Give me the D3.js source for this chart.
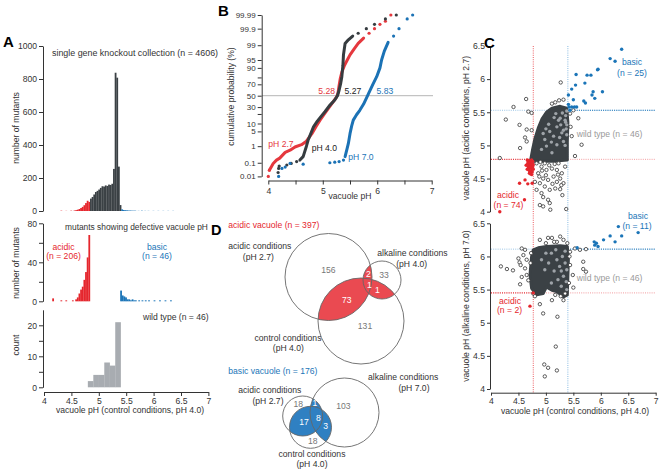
<!DOCTYPE html>
<html><head><meta charset="utf-8">
<script src="https://cdn.jsdelivr.net/npm/d3@7"></script>
<style>
body{margin:0;background:#fff}
svg{display:block;font-family:"Liberation Sans",Arial,sans-serif}
</style></head><body>
<svg id="c" width="662" height="472"></svg>
<script>
// ---------------- DATA ----------------
// Panel A: histograms (bin start pH, width 0.03)
const allBins   = [4.30,4.39,4.48,4.54,4.57,4.60,4.63,4.66,4.69,4.72,4.75,4.78,4.81,4.84,4.87,4.90,4.93,4.96,4.99,5.02,5.05,5.08,5.11,5.14,5.17,5.20,5.23,5.26,5.29,5.32,5.35,5.38,5.41,5.44,5.47,5.50,5.53,5.56,5.59,5.62,5.65,5.71,5.77,5.83,5.89,5.98,6.07,6.16,6.25,6.34];
const allCounts = [2,1,2,3,5,8,12,18,25,35,48,62,55,75,85,100,115,122,130,140,150,148,155,152,160,158,165,255,838,808,269,36,10,6,5,4,3,3,2,2,2,1,2,1,1,1,1,1,1,1];
const acidBins   = [4.15,4.30,4.39,4.51,4.57,4.60,4.63,4.66,4.69,4.72,4.75,4.78,4.81];
const acidCounts = [3,1,1,1,2,4,8,12,15,22,30,45,68];
const basicBins   = [5.39,5.42,5.45,5.48,5.51,5.54,5.57,5.60,5.63,5.66,5.72,5.78,5.84,5.90,6.00,6.10,6.20,6.30];
const basicCounts = [11,6,5,4,2,2,1,2,1,1,1,1,1,1,1,1,1,1];
const wtBins   = [4.8,4.9,5.0,5.1,5.2,5.3];
const wtCounts = [2,4,4,8,7,21];
const binW = 0.03, wtBinW = 0.1;
const acidCut = 4.84, basicCut = 5.40;

// Panel B: cumulative probability (pH, %)
const lineAcid = [[4.02,0.03],[4.09,0.09],[4.15,0.15],[4.21,0.2],[4.31,0.45],[4.40,0.6],[4.49,0.9],[4.61,1.2],[4.70,1.8],[4.80,4],[4.88,8],[4.95,13],[5.04,21],[5.12,30],[5.20,40],[5.255,48],[5.28,55],[5.30,68],[5.32,78],[5.35,86],[5.40,92],[5.45,95],[5.50,97],[5.58,98.5],[5.65,99.2],[5.75,99.6]];
const dotsAcid = [[4.0,0.01],[4.02,0.03],[5.85,99.8],[5.95,99.9],[6.05,99.95],[6.15,99.97],[6.25,99.99]];
const lineCtrl = [[4.58,0.15],[4.64,0.25],[4.70,1],[4.73,2],[4.78,4],[4.83,7.6],[4.90,12],[4.97,17],[5.04,23],[5.12,32],[5.22,42],[5.27,50],[5.30,60],[5.33,72],[5.35,81],[5.37,92],[5.38,97],[5.41,99.2],[5.47,99.5],[5.55,99.7]];
const dotsCtrl = [[4.18,0.02],[4.19,0.04],[4.20,0.06],[4.34,0.07],[4.42,0.09],[4.52,0.12],[5.65,99.8],[5.8,99.9],[5.95,99.95],[6.15,99.98],[6.35,99.99]];
const lineAlk = [[5.41,0.25],[5.45,0.8],[5.47,1.4],[5.50,4],[5.53,8],[5.56,13],[5.62,19],[5.68,25],[5.75,35],[5.84,54],[5.92,70],[5.99,81],[6.05,90],[6.08,95],[6.13,98],[6.2,99.3]];
const dotsAlk = [[4.19,0.01],[4.25,0.04],[4.31,0.05],[4.40,0.09],[4.64,0.08],[5.13,0.1],[5.22,0.11],[5.30,0.12],[5.38,0.15],[6.3,99.7],[6.4,99.9],[6.55,99.98],[6.65,99.99]];
const probTicks  = [0.01,0.1,1,5,10,20,30,50,70,80,90,95,99,99.9,99.99];
const probLabels = ["0.01","0.1","1","5","10","","30","50","70","","90","95","99","99.9","99.99"];
const medians = [5.28,5.27,5.83];

// Panel C: scatter (x = control pH, y = acidic / alkaline pH)
const cloudAcid = [[4.72,4.77],[4.76,4.95],[4.80,5.10],[4.86,5.26],[4.93,5.40],[5.01,5.50],[5.11,5.56],[5.26,5.59],[5.38,5.56],[5.40,5.35],[5.39,5.05],[5.39,4.78],[5.13,4.76],[4.80,4.76]];
const openAcid = [[4.41,5.58],[4.27,5.39],[4.64,5.70],[4.68,5.51],[4.74,5.49],[4.52,5.31],[4.65,5.24],[4.74,5.23],[4.62,5.12],[4.65,5.06],[4.53,4.96],[4.16,4.81],[5.11,5.63],[5.17,5.65],[5.24,5.68],[5.27,5.95],[5.32,5.69],[5.59,5.41],[5.65,5.01],[5.53,4.84],[5.47,5.14],[5.45,5.28],[5.44,5.48],[5.50,5.53],
 [4.83,4.73],[4.92,4.68],[5.01,4.63],[5.11,4.65],[5.20,4.63],[5.29,4.58],[4.86,4.58],[4.95,4.50],[5.04,4.48],[5.14,4.53],[5.26,4.50],[5.32,4.43],[4.89,4.43],[4.98,4.38],[5.07,4.33],[5.17,4.35],[5.26,4.34],[4.92,4.28],[5.04,4.18],[5.07,4.13],[4.89,4.10],[4.95,4.08],[5.08,4.03],[5.37,4.04],[4.83,4.33],[4.80,4.45],[5.35,4.68],[5.23,4.73],[4.98,4.73],[4.88,4.53],[5.20,4.45],[5.00,4.55],[5.12,4.42],[5.22,4.56],[5.28,4.40],[4.93,4.62],[5.16,4.72],[5.06,4.70],[4.90,4.75],[5.30,4.25],[4.95,4.22]];
const redAcid = [[4.66,4.78],[4.68,4.76],[4.70,4.77],[4.72,4.75],[4.74,4.78],[4.76,4.76],[4.67,4.73],[4.69,4.71],[4.71,4.72],[4.73,4.70],[4.75,4.73],[4.77,4.71],[4.68,4.68],[4.70,4.66],[4.72,4.67],[4.74,4.65],[4.76,4.68],[4.69,4.63],[4.71,4.61],[4.73,4.62],[4.75,4.60],[4.70,4.58],[4.72,4.57],[4.66,4.64],[4.64,4.70],[4.77,4.64],[4.74,4.56],[4.52,4.43],[4.62,4.48],[4.67,4.42],[4.75,4.43],[4.61,4.18],[4.16,4.00]];
const blueAcid = [[6.38,6.45],[6.17,6.31],[6.26,6.27],[5.95,6.15],[5.94,6.14],[5.82,6.06],[5.75,6.06],[5.55,6.07],[5.71,5.94],[5.54,5.91],[6.03,5.81],[5.86,5.81],[5.84,5.76],[5.89,5.71],[5.47,5.85],[5.41,5.76],[5.50,5.69],[5.69,5.67],[5.72,5.64],[5.41,5.62],[5.42,5.58],[5.47,5.58],[5.52,5.58],[5.56,5.58],[5.44,5.53]];
const wtAcid = [[5.30,5.49],[5.26,5.41],[5.35,5.38],[5.20,5.28],[5.32,5.23],[5.07,5.21],[4.98,5.09],[5.14,5.14],[5.29,5.19],[5.38,5.31],[5.01,4.99],[5.20,5.01],[5.11,4.89],[4.92,4.94],[5.32,5.06],[5.23,5.38],[5.36,5.45],[5.38,5.52],[5.36,5.35],[5.37,5.25],[5.05,5.32],[5.15,5.42],[5.27,5.31],[4.95,5.18],[5.10,5.05],[5.25,5.12],[5.38,5.16],[5.35,5.00],[5.00,5.25],[5.18,5.48]];
const cloudAlk = [[4.71,5.72],[4.74,6.00],[4.77,6.10],[4.86,6.13],[5.01,6.15],[5.26,6.16],[5.39,6.15],[5.41,5.97],[5.39,5.42],[5.32,5.39],[5.20,5.47],[5.11,5.49],[5.01,5.54],[4.95,5.44],[4.83,5.42],[4.74,5.52]];
const openAlk = [[4.18,5.85],[4.29,5.81],[4.40,5.79],[4.50,5.97],[4.52,5.91],[4.54,5.87],[4.56,6.12],[4.62,6.10],[4.59,6.02],[4.65,5.95],[4.62,5.82],[4.65,5.72],[4.53,5.58],[4.68,5.64],[4.56,5.69],[4.89,6.25],[5.04,6.28],[5.11,6.28],[5.26,6.30],[5.32,6.25],[5.20,6.22],[5.44,6.07],[5.53,6.12],[5.62,6.10],[5.73,6.11],[5.68,5.92],[5.68,5.81],[5.73,5.77],[5.49,5.72],[5.50,5.53],[5.44,5.87],[4.89,5.28],[4.95,5.14],[5.17,5.42],[5.11,5.34],[5.21,5.09],[5.18,4.64],[4.97,4.37],[5.04,4.32],[5.20,4.28],[4.98,4.19],[5.35,5.44],[5.32,5.34],[4.77,5.44],[5.39,6.20],[4.80,5.40],[5.27,5.40],[4.72,5.90],[4.73,6.05],[5.42,5.60],[5.43,6.00],[5.00,6.20],[5.15,6.22]];
const redAlk = [[4.71,5.25],[4.77,5.45]];
const blueAlk = [[6.32,6.45],[6.68,6.36],[6.38,6.31],[6.17,6.31],[6.05,6.25],[6.26,6.22],[5.88,6.22],[5.92,6.20],[5.95,6.15],[5.89,6.17],[5.57,6.13]];
const wtAlk = [[5.10,6.05],[5.20,5.95],[5.30,6.00],[5.35,5.90],[5.25,5.85],[5.38,5.80],[5.15,5.78],[5.05,5.90],[4.98,5.80],[5.32,5.70],[5.37,5.62],[5.22,5.65],[5.10,5.60],[5.38,5.50],[5.28,5.55],[5.00,6.05],[5.35,6.08],[5.18,6.10],[4.92,5.95],[5.28,5.78]];
const cutAcid = {x:4.77, y:4.79}, cutBasic = {x:5.40, y:5.53};
const cutAcid2 = 5.45, cutBasic2 = 6.11;
const axisTicksC = [4,4.5,5,5.5,6,6.5,7];

// Panel D: Venn counts
const vennAcidCounts = ["156","73","131","2","33","1","1"];
const vennBasicCounts = ["18","1","103","17","8","3","18"];

// ---------------- DRAW ----------------
const svg = d3.select("#c");
const FONT = '"Liberation Sans", Arial, sans-serif';
const RED = "#e5262d", DARK = "#3b4145", BLUE = "#1b75b8", GRAY = "#a8acb1";
const TXT = "#333";

function txt(x,y,s,o={}){
  const t = svg.append("text").attr("x",x).attr("y",y).text(s)
    .attr("font-size",o.size||8.6).attr("fill",o.fill||TXT)
    .attr("text-anchor",o.anchor||"start").attr("font-family",FONT);
  if(o.weight) t.attr("font-weight",o.weight);
  if(o.rot) t.attr("transform",`rotate(-90,${x},${y})`);
  return t;
}
function styleAxis(g,fs){
  g.attr("font-family",FONT).attr("font-size",fs||8.6);
  g.selectAll("path,line").attr("stroke","#333").attr("stroke-width",1);
  g.selectAll("text").attr("fill",TXT);
}
const fmt = d => String(d);

// ===== Panel A =====
const xA = d3.scaleLinear().domain([4,7]).range([44,208.4]);
const yA1 = d3.scaleLinear().domain([0,1000]).range([211,46]);
const yA2 = d3.scaleLinear().domain([0,80]).range([301.3,223.3]);
const yA3 = d3.scaleLinear().domain([0,25]).range([387.3,309.8]);

function bars(bins,counts,w,y,colorFn){
  svg.append("g").selectAll("rect").data(bins.map((b,i)=>({b,c:counts[i]}))).join("rect")
    .attr("x",d=>xA(d.b)).attr("width",d=>xA(d.b+w)-xA(d.b)+0.15)
    .attr("y",d=>y(d.c)).attr("height",d=>y(0)-y(d.c))
    .attr("fill",d=>colorFn(d.b));
}
bars(allBins,allCounts,binW,yA1,b=> b<acidCut?RED:(b>basicCut?BLUE:DARK));
bars(acidBins,acidCounts,binW,yA2,()=>RED);
bars(basicBins,basicCounts,binW,yA2,()=>BLUE);
bars(wtBins,wtCounts,wtBinW,yA3,()=>GRAY);

svg.append("g").attr("transform","translate(43,0)")
  .call(d3.axisLeft(yA1).tickValues([0,200,400,600,800,1000]).tickSize(4).tickPadding(2).tickSizeOuter(0).tickFormat(fmt)).call(styleAxis);
svg.append("g").attr("transform","translate(43,0)")
  .call(d3.axisLeft(yA2).tickValues([0,20,40,60,80]).tickSize(4).tickPadding(2).tickSizeOuter(0).tickFormat(d=>d%40===0?d:"")).call(styleAxis);
svg.append("g").attr("transform","translate(43,0)")
  .call(d3.axisLeft(yA3).tickValues([0,5,10,15,20]).tickSize(4).tickPadding(2).tickSizeOuter(0).tickFormat(d=>d%10===0?d:"")).call(styleAxis);
svg.append("g").attr("transform","translate(0,392)")
  .call(d3.axisBottom(xA).tickValues(axisTicksC).tickSize(4).tickPadding(2).tickSizeOuter(0).tickFormat(fmt)).call(styleAxis);

txt(3,47,"A",{size:15,weight:"bold",fill:"#000"});
txt(52,55.5,"single gene knockout collection (n = 4606)",{size:8.9});
txt(65,229.5,"mutants showing defective vacuole pH",{size:8.4});
txt(63.5,250.3,"acidic",{anchor:"middle",fill:RED});
txt(63.5,258.8,"(n = 206)",{anchor:"middle",fill:RED});
txt(157,250.3,"basic",{anchor:"middle",fill:BLUE});
txt(157,258.8,"(n = 46)",{anchor:"middle",fill:BLUE});
txt(143,319.7,"wild type (n = 46)");
txt(18.5,128,"number of mutants",{rot:true,anchor:"middle"});
txt(18.5,263,"number of mutants",{rot:true,anchor:"middle"});
txt(18.5,345,"count",{rot:true,anchor:"middle"});
txt(130,413,"vacuole pH (control conditions, pH 4.0)",{anchor:"middle"});

// ===== Panel B =====
function qnorm(p){
  const a=[-3.969683028665376e+01,2.209460984245205e+02,-2.759285104469687e+02,1.383577518672690e+02,-3.066479806614716e+01,2.506628277459239e+00];
  const b=[-5.447609879822406e+01,1.615858368580409e+02,-1.556989798598866e+02,6.680131188771972e+01,-1.328068155288572e+01];
  const c=[-7.784894002430293e-03,-3.223964580411365e-01,-2.400758277161838e+00,-2.549671324738331e+00,4.374664141464968e+00,2.938163982698783e+00];
  const d=[7.784695709041462e-03,3.224671290700398e-01,2.445134137142996e+00,3.754408661907416e+00];
  const pl=0.02425, ph=1-pl; let q,r;
  if(p<pl){q=Math.sqrt(-2*Math.log(p));return (((((c[0]*q+c[1])*q+c[2])*q+c[3])*q+c[4])*q+c[5])/((((d[0]*q+d[1])*q+d[2])*q+d[3])*q+1);}
  if(p>ph){q=Math.sqrt(-2*Math.log(1-p));return -(((((c[0]*q+c[1])*q+c[2])*q+c[3])*q+c[4])*q+c[5])/((((d[0]*q+d[1])*q+d[2])*q+d[3])*q+1);}
  q=p-0.5;r=q*q;return (((((a[0]*r+a[1])*r+a[2])*r+a[3])*r+a[4])*r+a[5])*q/(((((b[0]*r+b[1])*r+b[2])*r+b[3])*r+b[4])*r+1);
}
const xB = d3.scaleLinear().domain([4,7]).range([268.3,431.7]);
const zB = d3.scaleLinear().domain([qnorm(0.0001),qnorm(0.9999)]).range([176.4,15]);
const yB = p => zB(qnorm(p/100));

svg.append("line").attr("x1",262).attr("x2",433).attr("y1",yB(50)).attr("y2",yB(50)).attr("stroke","#b5b5b5").attr("stroke-width",1);

const lineB = d3.line().x(d=>xB(d[0])).y(d=>yB(d[1])).curve(d3.curveLinear);
[[lineAcid,dotsAcid,"#e5383e"],[lineCtrl,dotsCtrl,"#363c40"],[lineAlk,dotsAlk,"#1b72b5"]].forEach(([ln,dt,col])=>{
  svg.append("path").attr("d",lineB(ln)).attr("fill","none").attr("stroke",col).attr("stroke-width",3).attr("stroke-linejoin","round").attr("stroke-linecap","round");
  svg.append("g").selectAll("circle").data(dt).join("circle").attr("cx",d=>xB(d[0])).attr("cy",d=>yB(d[1])).attr("r",1.6).attr("fill",col);
});

svg.append("g").attr("transform","translate(261.7,0)")
  .call(d3.axisLeft(zB).tickValues(probTicks.map(p=>qnorm(p/100))).tickSize(4).tickPadding(2).tickSizeOuter(0).tickFormat((d,i)=>probLabels[i])).call(g=>styleAxis(g,8));
svg.append("g").attr("transform","translate(0,180.5)")
  .call(d3.axisBottom(xB).tickValues([4,4.5,5,5.5,6,6.5,7]).tickSize(4).tickPadding(3).tickSizeOuter(0).tickFormat(d=>Number.isInteger(d)?d:"")).call(styleAxis);

txt(218,15.5,"B",{size:15,weight:"bold",fill:"#000"});
txt(234,96.5,"cumulative probability (%)",{rot:true,anchor:"middle"});
txt(350,199,"vacuole pH",{anchor:"middle"});
txt(335,93.5,medians[0].toFixed(2),{anchor:"end",fill:"#e5383e"});
txt(344.5,93.5,medians[1].toFixed(2),{fill:"#222"});
txt(376.5,93.5,medians[2].toFixed(2),{fill:BLUE});
txt(268.3,146.5,"pH 2.7",{fill:"#e5383e"});
txt(311.7,151,"pH 4.0",{fill:"#222"});
txt(348.3,159.5,"pH 7.0",{fill:BLUE});

// ===== Panel C =====
const xC = d3.scaleLinear().domain([4,7]).range([491,655.7]);
const yC1 = d3.scaleLinear().domain([4,6.5]).range([211.7,46]);
const yC2 = d3.scaleLinear().domain([4,6.5]).range([389,223.3]);

function dotted(x1,y1,x2,y2,col,op){
  svg.append("line").attr("x1",x1).attr("y1",y1).attr("x2",x2).attr("y2",y2)
    .attr("stroke",col).attr("stroke-width",1).attr("stroke-dasharray","1,1.2").attr("opacity",op);
}
function scatter(yS,cloud,open,wt,red,blue){
  const area = d3.line().x(d=>xC(d[0])).y(d=>yS(d[1])).curve(d3.curveLinearClosed);
  svg.append("path").attr("d",area(cloud)).attr("fill",DARK).attr("stroke",DARK).attr("stroke-width",3).attr("stroke-linejoin","round");
  svg.append("g").selectAll("circle").data(open).join("circle").attr("cx",d=>xC(d[0])).attr("cy",d=>yS(d[1])).attr("r",1.7).attr("fill","#fff").attr("stroke","#333").attr("stroke-width",0.8);
  svg.append("g").selectAll("circle").data(wt).join("circle").attr("cx",d=>xC(d[0])).attr("cy",d=>yS(d[1])).attr("r",1.7).attr("fill","#9ea3a8");
  svg.append("g").selectAll("circle").data(red).join("circle").attr("cx",d=>xC(d[0])).attr("cy",d=>yS(d[1])).attr("r",1.7).attr("fill",RED);
  svg.append("g").selectAll("circle").data(blue).join("circle").attr("cx",d=>xC(d[0])).attr("cy",d=>yS(d[1])).attr("r",1.7).attr("fill",BLUE);
}
// guide lines
const xLeft = 491, xRight = 655.7;
dotted(xC(cutAcid.x),46,xC(cutAcid.x),392.7,RED,0.75);
dotted(xC(cutBasic.x),46,xC(cutBasic.x),392.7,"#3b8fd0",0.6);
dotted(xLeft,yC1(cutAcid.y),xRight,yC1(cutAcid.y),RED,0.45);
dotted(xLeft,yC1(cutAcid.y),xC(cutAcid.x),yC1(cutAcid.y),RED,1);
dotted(xLeft,yC1(cutBasic.y),xRight,yC1(cutBasic.y),"#3b8fd0",0.5);
dotted(xC(cutBasic.x),yC1(cutBasic.y),xRight,yC1(cutBasic.y),BLUE,1);
dotted(xLeft,yC2(cutAcid2),xRight,yC2(cutAcid2),RED,0.45);
dotted(xLeft,yC2(cutAcid2),xC(cutAcid.x),yC2(cutAcid2),RED,1);
dotted(xLeft,yC2(cutBasic2),xRight,yC2(cutBasic2),"#3b8fd0",0.5);
dotted(xC(cutBasic.x),yC2(cutBasic2),xRight,yC2(cutBasic2),BLUE,1);

scatter(yC1,cloudAcid,openAcid,wtAcid,redAcid,blueAcid);
scatter(yC2,cloudAlk,openAlk,wtAlk,redAlk,blueAlk);

svg.append("g").attr("transform","translate(490,0)")
  .call(d3.axisLeft(yC1).tickValues([4,4.5,5,5.5,6,6.5]).tickSize(3).tickPadding(2).tickSizeOuter(0).tickFormat(fmt)).call(styleAxis);
svg.append("g").attr("transform","translate(490,0)")
  .call(d3.axisLeft(yC2).tickValues([4,4.5,5,5.5,6,6.5]).tickSize(3).tickPadding(2).tickSizeOuter(0).tickFormat(fmt)).call(styleAxis);
svg.append("g").attr("transform","translate(0,392.7)")
  .call(d3.axisBottom(xC).tickValues(axisTicksC).tickSize(3).tickPadding(2).tickSizeOuter(0).tickFormat(fmt)).call(styleAxis);

txt(484,48,"C",{size:15,weight:"bold",fill:"#000"});
txt(469,128,"vacuole pH (acidic conditions, pH 2.7)",{rot:true,anchor:"middle"});
txt(469,306,"vacuole pH (alkaline conditions, pH 7.0)",{rot:true,anchor:"middle"});
txt(575,413.5,"vacuole pH (control conditions, pH 4.0)",{anchor:"middle"});
txt(632,65.3,"basic",{anchor:"middle",fill:BLUE});
txt(632,75.7,"(n = 25)",{anchor:"middle",fill:BLUE});
txt(576.7,136.7,"wild type (n = 46)",{fill:"#9a9a9a"});
txt(508,197.7,"acidic",{anchor:"middle",fill:RED});
txt(508.5,207.5,"(n = 74)",{anchor:"middle",fill:RED});
txt(638,218.7,"basic",{anchor:"middle",fill:BLUE});
txt(637,229,"(n = 11)",{anchor:"middle",fill:BLUE});
txt(576.7,281,"wild type (n = 46)",{fill:"#9a9a9a"});
txt(510,304,"acidic",{anchor:"middle",fill:RED});
txt(509.5,313.3,"(n = 2)",{anchor:"middle",fill:RED});

// ===== Panel D: Venn diagrams =====
const defs = svg.append("defs");
function venn(id,circles,fill){
  circles.forEach((c,i)=>{
    defs.append("clipPath").attr("id",`${id}${i}`).append("circle").attr("cx",c[0]).attr("cy",c[1]).attr("r",c[2]);
  });
  const g = svg.append("g");
  for(let i=0;i<circles.length;i++) for(let j=i+1;j<circles.length;j++){
    g.append("circle").attr("cx",circles[j][0]).attr("cy",circles[j][1]).attr("r",circles[j][2])
      .attr("fill",fill).attr("clip-path",`url(#${id}${i})`);
  }
  circles.forEach(c=>{
    g.append("circle").attr("cx",c[0]).attr("cy",c[1]).attr("r",c[2]).attr("fill","none").attr("stroke","#666").attr("stroke-width",0.9);
  });
}
const vennRed = [[328.5,277,43.5],[382,280,19],[361,321,43]];
const vennBlue = [[302.7,416,20],[344.5,412.5,34.5],[310.5,427.3,21]];
venn("vr",vennRed,"#ea4a51");
venn("vb",vennBlue,"#2f80c2");

txt(211,235,"D",{size:14.5,weight:"bold",fill:"#000"});
txt(228.3,228,"acidic vacuole (n = 397)",{fill:RED});
txt(228.3,249.3,"acidic conditions");
txt(258.3,259.5,"(pH 2.7)",{anchor:"middle"});
txt(377.3,256,"alkaline conditions");
txt(411.7,266.5,"(pH 4.0)",{anchor:"middle"});
txt(288,341,"control conditions",{anchor:"middle"});
txt(288.3,351.3,"(pH 4.0)",{anchor:"middle"});
const redPos = [[328.3,272.5,"#777"],[346.7,302.5,"#fff"],[365,329,"#777"],[368.3,276.5,"#fff"],[384,278.3,"#777"],[369.3,288.3,"#fff"],[377.3,293.3,"#fff"]];
vennAcidCounts.forEach((s,i)=>txt(redPos[i][0],redPos[i][1],s,{anchor:"middle",fill:redPos[i][2]}));

txt(228.3,373.7,"basic vacuole  (n =  176)",{fill:BLUE});
txt(238.3,393.3,"acidic conditions");
txt(268,403.5,"(pH 2.7)",{anchor:"middle"});
txt(368,380,"alkaline conditions");
txt(414,390.5,"(pH 7.0)",{anchor:"middle"});
txt(312,456.7,"control conditions",{anchor:"middle"});
txt(312,466.8,"(pH 4.0)",{anchor:"middle"});
const bluePos = [[298.3,407.2,"#777"],[315,406,"#fff"],[343.3,409.3,"#777"],[304,425,"#fff"],[318.3,420.6,"#fff"],[325.7,429.3,"#fff"],[312.7,444.3,"#777"]];
vennBasicCounts.forEach((s,i)=>txt(bluePos[i][0],bluePos[i][1],s,{anchor:"middle",fill:bluePos[i][2]}));
</script>
</body></html>
